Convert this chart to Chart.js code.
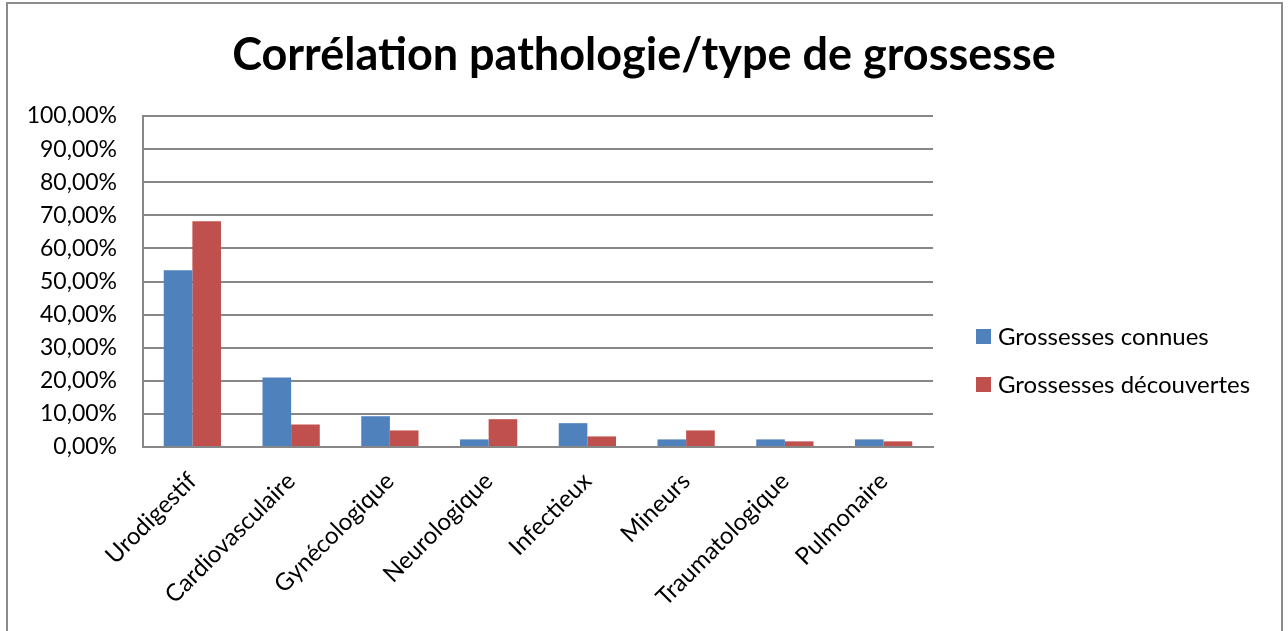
<!DOCTYPE html>
<html>
<head>
<meta charset="utf-8">
<script src="https://cdn.jsdelivr.net/npm/chart.js@4"></script>
<style>
  html, body { margin: 0; padding: 0; background: #fff; overflow: hidden; }
  #wrap { position: relative; width: 1288px; height: 631px; }
  #frame {
    position: absolute; left: 6px; top: 2px; width: 1277px; height: 700px;
    border: 2px solid #8c8c8c; box-sizing: border-box;
  }
  #chart { position: absolute; left: 0; top: 0; }
  #legend { position: absolute; left: 976px; top: 321px; font-family: Lato, sans-serif; font-size: 24px; color: #000; }
  #legend div { height: 48px; display: flex; align-items: flex-start; white-space: nowrap; }
  #legend span.box { display: inline-block; width: 15px; height: 15px; margin: 8px 7px 0 0; }
</style>
</head>
<body>
<div id="wrap">
  <div id="frame"></div>
  <canvas id="chart" width="1288" height="631"></canvas>
  <div id="legend"></div>
</div>
<script>
const categories = ['Urodigestif', 'Cardiovasculaire', 'Gynécologique', 'Neurologique', 'Infectieux', 'Mineurs', 'Traumatologique', 'Pulmonaire'];
const connues = [53.4, 21.0, 9.3, 2.3, 7.2, 2.3, 2.3, 2.3];
const decouvertes = [68.2, 6.8, 5.0, 8.4, 3.2, 5.0, 1.7, 1.7];
const seriesLabels = ['Grossesses connues', 'Grossesses découvertes'];
const seriesColors = ['#4f81bd', '#c0504d'];
const yTicks = [0, 10, 20, 30, 40, 50, 60, 70, 80, 90, 100];

const FONT = 'Lato, sans-serif';
const gridColor = '#878787';

const formatPct = (v) => v.toFixed(2).replace('.', ',') + '%';

const chart = new Chart(document.getElementById('chart'), {
  type: 'bar',
  data: {
    labels: categories,
    datasets: [
      { label: seriesLabels[0], data: connues, backgroundColor: seriesColors[0] },
      { label: seriesLabels[1], data: decouvertes, backgroundColor: seriesColors[1] },
    ],
  },
  options: {
    responsive: false,
    animation: false,
    categoryPercentage: 0.58,
    barPercentage: 1,
    layout: { padding: 0 },
    plugins: {
      legend: { display: false },
      tooltip: { enabled: false },
      title: {
        display: true,
        text: 'Corrélation pathologie/type de grossesse',
        color: '#000',
        font: { family: FONT, size: 45, weight: 'bold', lineHeight: 1.2 },
        padding: { top: 28, bottom: 34 },
      },
    },
    scales: {
      x: {
        grid: { display: false, drawTicks: false },
        border: { display: true, color: gridColor, width: 2 },
        ticks: {
          color: '#000',
          font: { family: FONT, size: 24 },
          minRotation: 45,
          maxRotation: 45,
          padding: 20,
        },
        afterFit: (scale) => { scale.height = 184; },
      },
      y: {
        min: 0,
        max: 100,
        afterBuildTicks: (scale) => { scale.ticks = yTicks.map((v) => ({ value: v })); },
        grid: { color: gridColor, lineWidth: 2, drawTicks: false },
        border: { display: true, color: gridColor, width: 2 },
        ticks: {
          color: '#000',
          font: { family: FONT, size: 23 },
          padding: 26,
          callback: (v) => formatPct(v),
        },
        afterFit: (scale) => { scale.width = 143; },
      },
      // empty right-hand axis: reserves the space where the legend sits
      legendSpace: {
        position: 'right',
        grid: { display: false, drawTicks: false },
        border: { display: false },
        ticks: { display: false },
        afterFit: (scale) => { scale.width = 355; },
      },
    },
  },
});

document.getElementById('legend').innerHTML = chart.data.datasets
  .map((ds) => `<div><span class="box" style="background:${ds.backgroundColor}"></span>${ds.label}</div>`)
  .join('');
</script>
</body>
</html>
